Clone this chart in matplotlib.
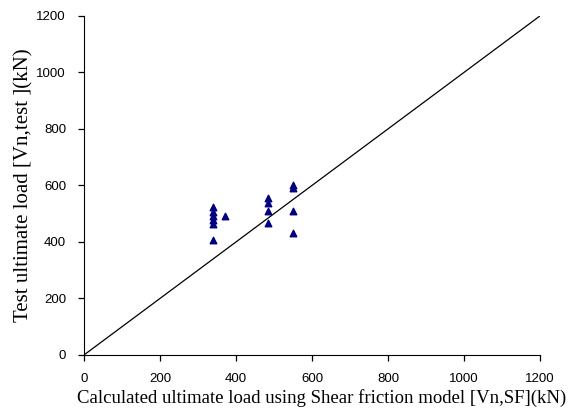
import matplotlib
matplotlib.use('Agg')
import matplotlib.pyplot as plt
from matplotlib import font_manager

# valores (kN)
x_calc = [340, 340, 340, 340, 340, 340, 372,
          485, 485, 485, 485,
          550, 550, 550, 550]
y_test = [522, 507, 492, 478, 463, 408, 492,
          555, 538, 510, 468,
          603, 590, 508, 432]
linha = [0, 1200]
ticks = [0, 200, 400, 600, 800, 1000, 1200]

nomes = {f.name for f in font_manager.fontManager.ttflist}
fonte_ticks = 'Liberation Sans Narrow' if 'Liberation Sans Narrow' in nomes else 'Liberation Sans'

fig = plt.figure(figsize=(5.72, 4.19), dpi=100)
ax = fig.add_axes([0.147, 0.153, 0.797, 0.809])

ax.plot(linha, linha, color='black', linewidth=0.9)
ax.scatter(x_calc, y_test, marker='^', s=22, color='#000080', zorder=3)

ax.set_xlim(0, 1200)
ax.set_ylim(0, 1200)
ax.set_xticks(ticks)
ax.set_yticks(ticks)
ax.spines['top'].set_visible(False)
ax.spines['right'].set_visible(False)
ax.tick_params(direction='out', length=4, width=0.9, labelsize=9.5, pad=9)
for lab in ax.get_xticklabels() + ax.get_yticklabels():
    lab.set_family(fonte_ticks)

ax.set_xlabel('Calculated ultimate load using Shear friction model [Vn,SF](kN)',
              family='Liberation Serif', fontsize=13.5, labelpad=3)
ax.xaxis.label.set_x(0.521)
ax.set_ylabel('Test ultimate load [Vn,test ](kN)',
              family='Liberation Serif', fontsize=15, labelpad=2)

fig.savefig('out.png', dpi=100)
